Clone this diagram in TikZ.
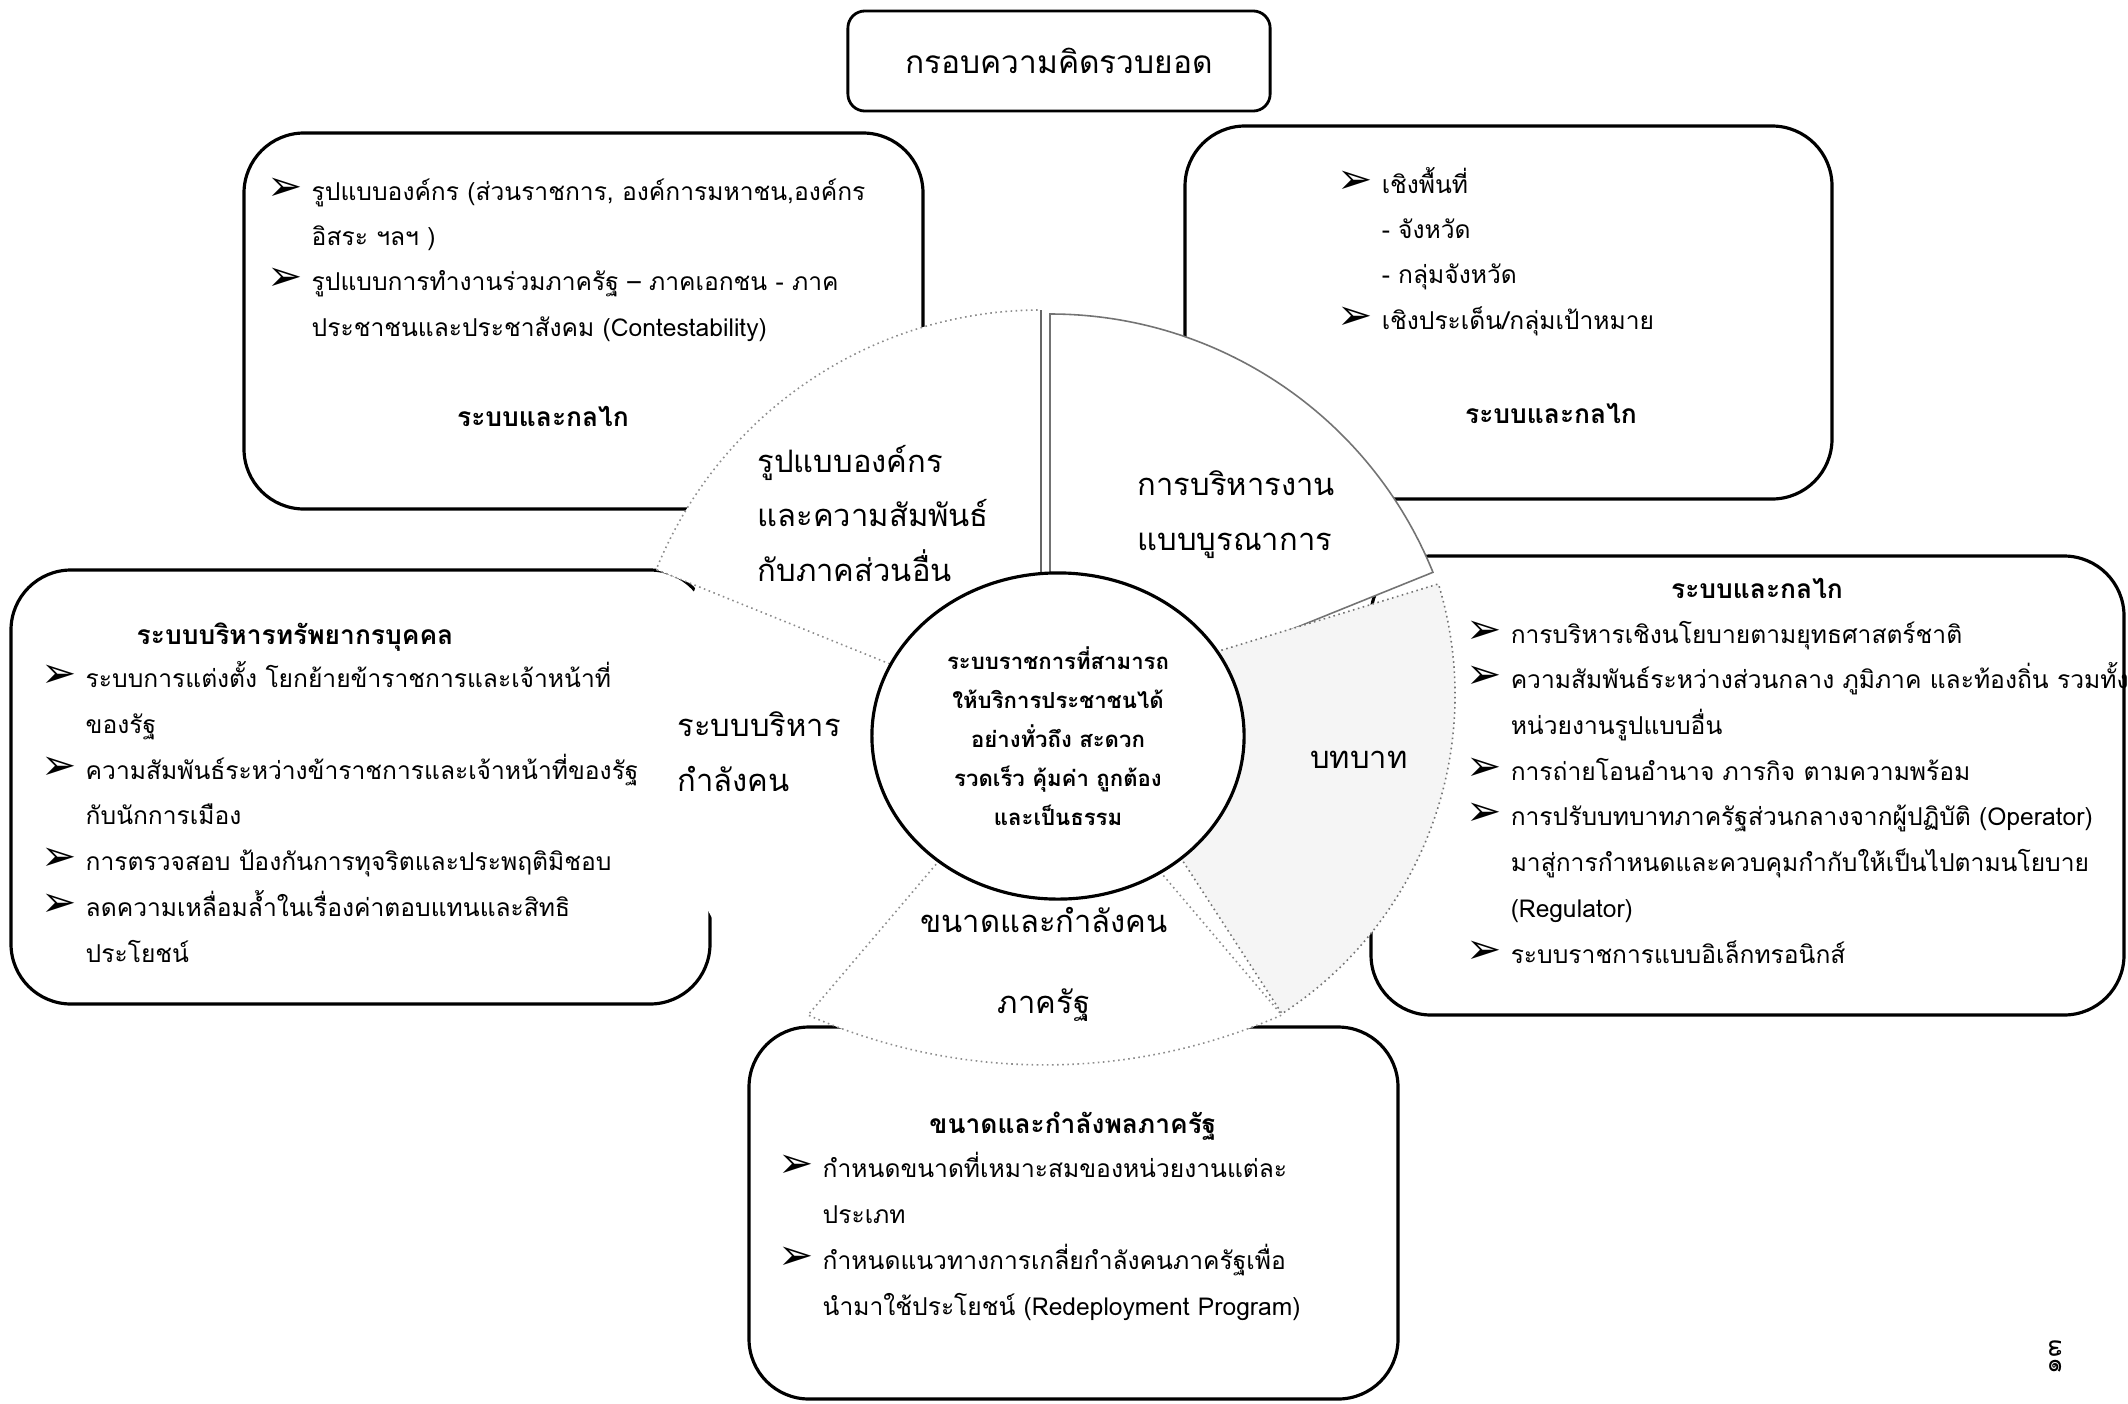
\documentclass[tikz,border=0pt]{standalone}
\usepackage{fontspec}
\setmainfont[Script=Thai]{Loma}
\newfontfamily\symfont{DejaVu Sans}
\usepackage{tikz}
\usetikzlibrary{shapes.geometric}
\newcommand{\bul}{\makebox[0.44cm][l]{\fontsize{12}{10}\symfont ➢}}
\newcommand{\ind}{\hspace*{0.44cm}}

\begin{document}
\begin{tikzpicture}[x=0.01cm,y=-0.01cm,
  panel/.style={draw,line width=0.9pt,rounded corners=0.6cm,fill=white},
  sector/.style={fill=white,draw=black!55,line width=0.45pt},
  faint/.style={draw=black!45,densely dotted},
  body/.style={font=\fontsize{7}{12.8}\selectfont,align=left,inner sep=0pt,anchor=base west},
  head/.style={font=\fontsize{7.5}{12.8}\selectfont\bfseries,inner sep=0pt,anchor=base},
  big/.style={font=\fontsize{8.8}{15.4}\selectfont,align=left,inner sep=0pt,anchor=base west}]
  \useasboundingbox (0,0) rectangle (2128,1403);
  % title
  \node[draw,line width=0.8pt,rounded corners=0.17cm,minimum width=4.22cm,minimum height=1cm,
        font=\fontsize{9}{11}\selectfont] (title) at (1059,61) {กรอบความคิดรวบยอด};
  % outer boxes
  \draw[panel] (244,133) rectangle (923,509);
  \draw[panel] (1185,126) rectangle (1832,499);
  \draw[panel] (11,570) rectangle (710,1004);
  \draw[panel] (1371,556) rectangle (2124,1015);
  \draw[panel] (749,1027) rectangle (1398,1399);
  % pie pieces round the core
  \fill[white] (1040,736) -- ++(133:375) arc[start angle=133,end angle=205,radius=375] -- cycle;
  \draw[sector,faint] (1041,725) -- ++(202:415) arc[start angle=202,end angle=270,radius=415] -- cycle;
  \draw[black!60,line width=0.45pt] (1041,725) -- ++(270:415);
  \draw[sector] (1050,727) -- ++(270:413) arc[start angle=270,end angle=338,radius=413] -- cycle;
  \draw[sector,fill=black!4,densely dotted] (1075,695) -- ++(343:380) arc[start angle=343,end angle=417,radius=380] -- cycle;
  \draw[sector,faint] (1045,736) -- (808,1015) arc[start angle=113.8,end angle=66.2,radius=587] -- cycle;
  % core
  \node[ellipse,draw,line width=0.9pt,fill=white,minimum width=3.72cm,minimum height=3.26cm,inner sep=0pt,
        align=center,font=\fontsize{6.3}{11.1}\selectfont\bfseries] (core) at (1058,736)
       {ระบบราชการที่สามารถ\\ให้บริการประชาชนได้\\อย่างทั่วถึง สะดวก\\รวดเร็ว คุ้มค่า ถูกต้อง\\และเป็นธรรม};
  % labels of the pieces (anchored at the last line)
  \node[big] (orgSec) at (757,581) {รูปแบบองค์กร\\และความสัมพันธ์\\กับภาคส่วนอื่น};
  \node[big] (intSec) at (1137,550) {การบริหารงาน\\แบบบูรณาการ};
  \node[big,anchor=base] (roleSec) at (1359,768) {บทบาท};
  \node[big] (hrSec) at (677,791) {ระบบบริหาร\\กำลังคน};
  \node[big,anchor=base,align=center,font=\fontsize{8.8}{22.8}\selectfont] (sizeSec) at (1044,1013) {ขนาดและกำลังคน\\ภาครัฐ};
  % top left box
  \node[body] (orgList) at (267,336) {\bul รูปแบบองค์กร (ส่วนราชการ, องค์การมหาชน,องค์กร\\\ind อิสระ ฯลฯ )\\\bul รูปแบบการทำงานร่วมภาครัฐ – ภาคเอกชน - ภาค\\\ind ประชาชนและประชาสังคม (Contestability)};
  \node[head] (orgHead) at (543,426) {ระบบและกลไก};
  % top right box
  \node[body] (intList) at (1337,329) {\bul เชิงพื้นที่\\\ind - จังหวัด\\\ind - กลุ่มจังหวัด\\\bul เชิงประเด็น/กลุ่มเป้าหมาย};
  \node[head] (intHead) at (1551,423) {ระบบและกลไก};
  % left box
  \node[head,anchor=base west] (hrHead) at (136,644) {ระบบบริหารทรัพยากรบุคคล};
  \node[body,font=\fontsize{7}{13}\selectfont] (hrList) at (41,962) {\bul ระบบการแต่งตั้ง โยกย้ายข้าราชการและเจ้าหน้าที่\\\ind ของรัฐ\\\bul ความสัมพันธ์ระหว่างข้าราชการและเจ้าหน้าที่ของรัฐ\\\ind กับนักการเมือง\\\bul การตรวจสอบ ป้องกันการทุจริตและประพฤติมิชอบ\\\bul ลดความเหลื่อมล้ำในเรื่องค่าตอบแทนและสิทธิ\\\ind ประโยชน์};
  % right box
  \node[head] (roleHead) at (1757,598) {ระบบและกลไก};
  \node[body,font=\fontsize{7}{13}\selectfont] (roleList) at (1466,963) {\bul การบริหารเชิงนโยบายตามยุทธศาสตร์ชาติ\\\bul ความสัมพันธ์ระหว่างส่วนกลาง ภูมิภาค และท้องถิ่น รวมทั้ง\\\ind หน่วยงานรูปแบบอื่น\\\bul การถ่ายโอนอำนาจ ภารกิจ ตามความพร้อม\\\bul การปรับบทบาทภาครัฐส่วนกลางจากผู้ปฏิบัติ (Operator)\\\ind มาสู่การกำหนดและควบคุมกำกับให้เป็นไปตามนโยบาย\\\ind (Regulator)\\\bul ระบบราชการแบบอิเล็กทรอนิกส์};
  % bottom box
  \node[head] (sizeHead) at (1073,1133) {ขนาดและกำลังพลภาครัฐ};
  \node[body,font=\fontsize{7}{13}\selectfont] (sizeList) at (778,1315) {\bul กำหนดขนาดที่เหมาะสมของหน่วยงานแต่ละ\\\ind ประเภท\\\bul กำหนดแนวทางการเกลี่ยกำลังคนภาครัฐเพื่อ\\\ind นำมาใช้ประโยชน์ (Redeployment Program)};
  % page number
  \node[rotate=90,font=\fontsize{7.5}{9}\selectfont] (pageNo) at (2056,1357) {๑๓};
\end{tikzpicture}
\end{document}
